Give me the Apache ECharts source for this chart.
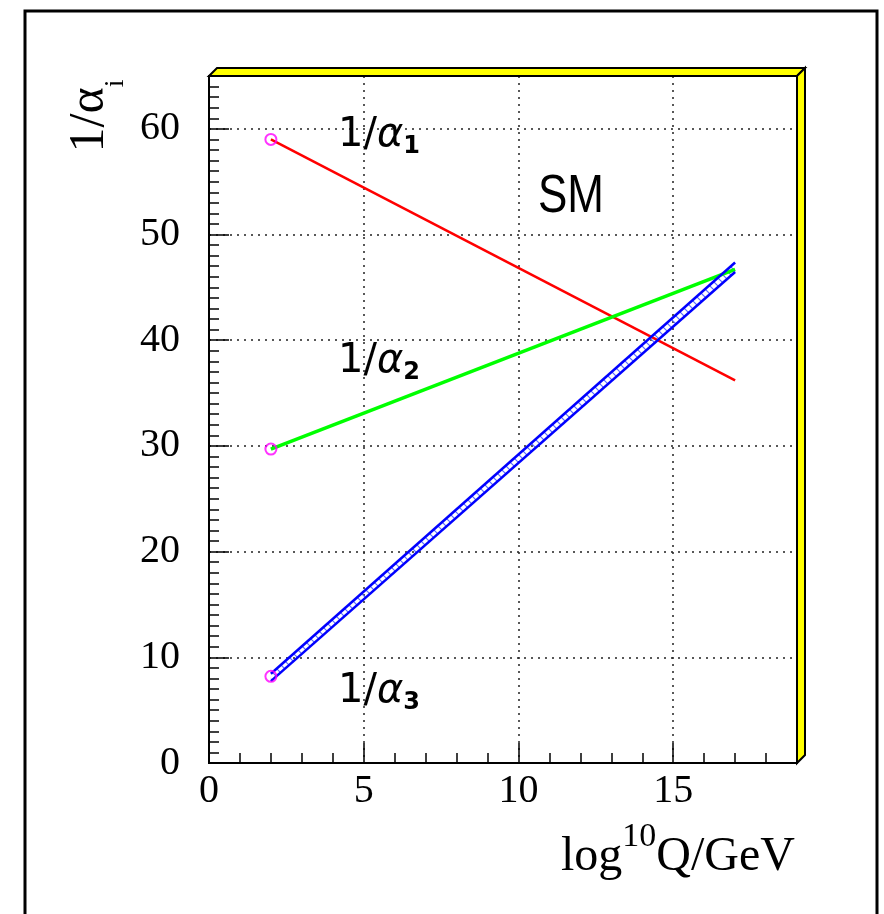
<!DOCTYPE html>
<html><head><meta charset="utf-8">
<script src="https://cdn.jsdelivr.net/npm/echarts@6.0.0/dist/echarts.min.js"></script>
<style>html,body{margin:0;padding:0;background:#fff}#c{width:884px;height:914px}</style>
</head><body><div id="c"></div>
<script>
// ---- data ----
const xTickLabels = [0, 5, 10, 15];
const yTickLabels = [0, 10, 20, 30, 40, 50, 60];
const qPoints = [2, 17];              // log10 Q/GeV
const alpha1 = [59.0, 36.2];          // 1/alpha_1
const alpha2 = [29.7, 46.7];          // 1/alpha_2
const alpha3Lower = [7.75, 46.45];    // 1/alpha_3 band lower edge
const alpha3Upper = [8.45, 47.35];    // 1/alpha_3 band upper edge
const markerQ = [2, 2, 2];
const markerVal = [59.0, 29.7, 8.2];

// ---- layout ----
const L = 209, T = 76, R = 797, B = 763, D = 8;

const pat = document.createElement('canvas');
pat.width = 8; pat.height = 8;
(function(){
  const g = pat.getContext('2d');
  g.strokeStyle = '#5a6cff'; g.lineWidth = 1.2;
  g.beginPath(); g.moveTo(0, 0); g.lineTo(8, 8); g.stroke();
  g.beginPath(); g.moveTo(-1, 7); g.lineTo(1, 9); g.stroke();
  g.beginPath(); g.moveTo(7, -1); g.lineTo(9, 1); g.stroke();
})();

const chart = echarts.init(document.getElementById('c'), null, {renderer: 'canvas'});
const serif = '"Liberation Serif", "Times New Roman", serif';
const sans = '"DejaVu Sans", "Liberation Sans", Arial, sans-serif';
const dotted = {type: [2, 5], color: '#222', width: 1.5};

function pairs(xs, ys) { return xs.map((x, i) => [x, ys[i]]); }

function label(x, y, sub) {
  return {type: 'text', z: 10, x: x, y: y,
    style: {text: '{m|1/}{a|α}{s|' + sub + '}', align: 'left', verticalAlign: 'middle',
      rich: {m: {font: '40px ' + sans, fill: '#000', lineHeight: 46},
             a: {font: 'oblique 40px ' + sans, fill: '#000', lineHeight: 46},
             s: {font: 'bold 24px ' + sans, fill: '#000', lineHeight: 30, verticalAlign: 'bottom'}}}};
}

chart.setOption({
  animation: false,
  backgroundColor: '#fff',
  grid: {left: L, top: T, right: 884 - R, bottom: 914 - B, show: true,
         borderColor: '#000', borderWidth: 2, outerBoundsMode: 'none', containLabel: false},
  xAxis: [{
    type: 'value', min: 0, max: 19, interval: 5, position: 'bottom',
    axisLine: {show: true, onZero: false, lineStyle: {color: '#000', width: 2}},
    axisTick: {show: true, inside: true, length: 20, lineStyle: {color: '#000', width: 1.5}},
    axisLabel: {show: true, margin: 8, color: '#000', fontSize: 40, fontFamily: serif,
      formatter: v => xTickLabels.indexOf(v) >= 0 ? String(v) : ''},
    splitLine: {show: true, lineStyle: dotted}
  }, {
    type: 'value', min: 0, max: 19, interval: 1, position: 'bottom',
    axisLine: {show: false}, axisLabel: {show: false}, splitLine: {show: false},
    axisTick: {show: true, inside: true, length: 10, lineStyle: {color: '#000', width: 1.5}}
  }],
  yAxis: [{
    type: 'value', min: 0, max: 65, interval: 10, position: 'left',
    axisLine: {show: true, onZero: false, lineStyle: {color: '#000', width: 2}},
    axisTick: {show: true, inside: true, length: 20, lineStyle: {color: '#000', width: 1.5}},
    axisLabel: {show: true, margin: 29, color: '#000', fontSize: 40, fontFamily: serif,
      formatter: v => yTickLabels.indexOf(v) >= 0 ? String(v) : ''},
    splitLine: {show: true, lineStyle: dotted}
  }, {
    type: 'value', min: 0, max: 65, interval: 1, position: 'left', offset: 0,
    axisLine: {show: false}, axisLabel: {show: false}, splitLine: {show: false},
    axisTick: {show: true, inside: true, length: 10, lineStyle: {color: '#000', width: 1.5}}
  }],
  series: [
    {type: 'custom', xAxisIndex: 0, yAxisIndex: 0, z: 3,
      data: qPoints.map((q, i) => [q, alpha3Lower[i], alpha3Upper[i]]),
      encode: {x: 0, y: [1, 2]},
      renderItem: function (params, api) {
        if (params.dataIndex !== 0) return null;
        const pts = [];
        qPoints.forEach((q, i) => pts.push(api.coord([q, alpha3Lower[i]])));
        for (let i = qPoints.length - 1; i >= 0; i--) pts.push(api.coord([qPoints[i], alpha3Upper[i]]));
        return {type: 'polygon', shape: {points: pts},
          style: {fill: {image: pat, repeat: 'repeat'}, stroke: null}};
      }},
    {type: 'line', name: 'a1', data: pairs(qPoints, alpha1), symbol: 'none', z: 4,
      lineStyle: {color: '#ff0000', width: 2.5}},
    {type: 'line', name: 'a2', data: pairs(qPoints, alpha2), symbol: 'none', z: 4,
      lineStyle: {color: '#00ff00', width: 3.5}},
    {type: 'line', name: 'a3lo', data: pairs(qPoints, alpha3Lower), symbol: 'none', z: 5,
      lineStyle: {color: '#0000ff', width: 2.5}},
    {type: 'line', name: 'a3hi', data: pairs(qPoints, alpha3Upper), symbol: 'none', z: 5,
      lineStyle: {color: '#0000ff', width: 2.5}},
    {type: 'scatter', data: pairs(markerQ, markerVal), symbol: 'circle', symbolSize: 11, z: 6,
      itemStyle: {color: 'rgba(255,255,255,0)', borderColor: '#ff00ff', borderWidth: 2}}
  ],
  graphic: [
    {type: 'rect', z: 0, silent: true, shape: {x: 25, y: 11, width: 852, height: 960},
      style: {fill: null, stroke: '#000', lineWidth: 3}},
    {type: 'polygon', z: 10, silent: true,
      shape: {points: [[L, T], [L + D, T - D], [R + D, T - D], [R, T]]},
      style: {fill: '#ffff00', stroke: '#000', lineWidth: 2}},
    {type: 'polygon', z: 10, silent: true,
      shape: {points: [[R, T], [R + D, T - D], [R + D, B - D], [R, B]]},
      style: {fill: '#ffff00', stroke: '#000', lineWidth: 2}},
    // y title
    {type: 'text', z: 10, x: 90, y: 116, rotation: Math.PI / 2,
      style: {text: '{m|1/α}{s|i}', align: 'center', verticalAlign: 'middle',
        rich: {m: {font: '50px ' + serif, fill: '#000', lineHeight: 80},
               s: {font: '28px ' + serif, fill: '#000', lineHeight: 28, verticalAlign: 'bottom'}}}},
    // x title
    {type: 'text', z: 10, x: 795, y: 857,
      style: {text: '{m|log}{s|10}{m|Q/GeV}', align: 'right', verticalAlign: 'middle',
        rich: {m: {font: '48px ' + serif, fill: '#000', lineHeight: 74},
               s: {font: '34px ' + serif, fill: '#000', lineHeight: 34, verticalAlign: 'top'}}}},
    // annotations
    label(338, 136, '1'),
    label(338, 362, '2'),
    label(338, 692, '3'),
    {type: 'text', z: 10, x: 538, y: 197, scaleY: 1.2, originY: 0,
      style: {text: 'SM', align: 'left', verticalAlign: 'middle',
        font: '44px "Liberation Sans", Arial, sans-serif', fill: '#000'}}
  ]
});
</script>
</body></html>
